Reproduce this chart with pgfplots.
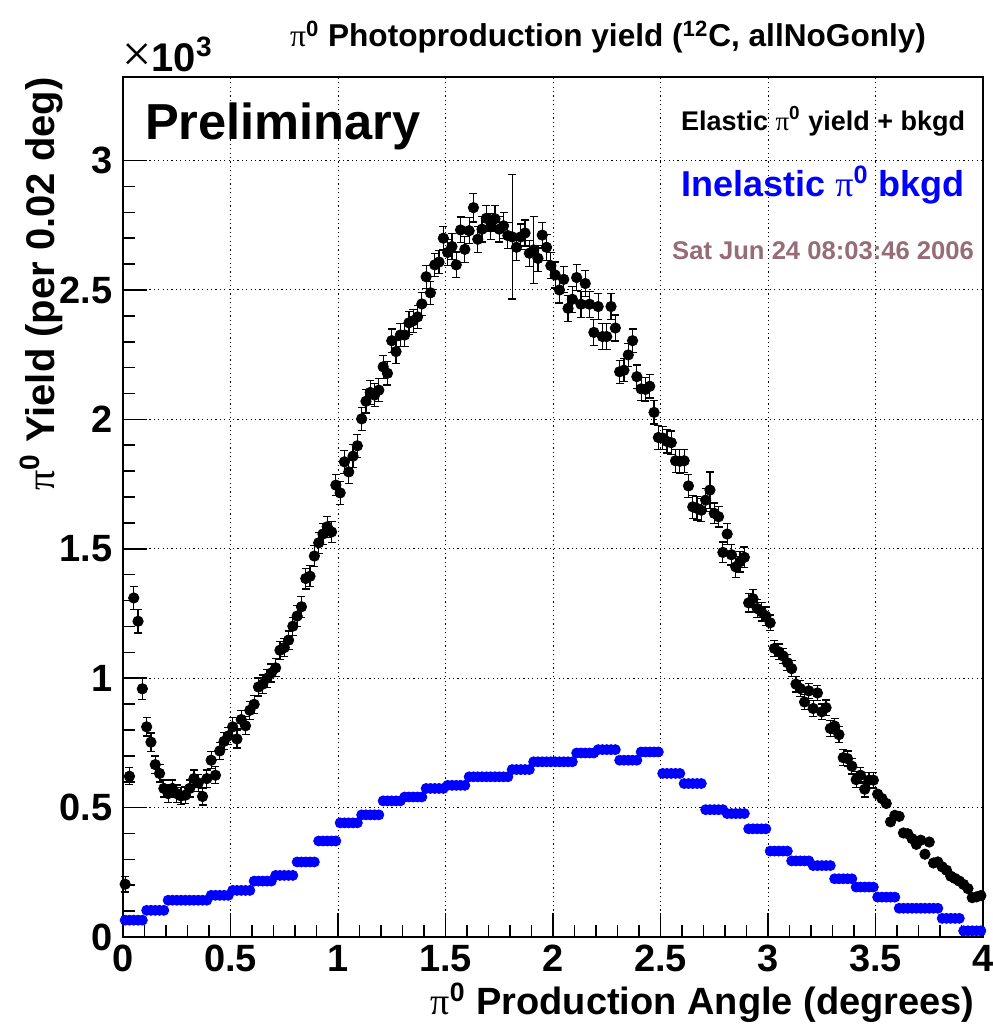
\documentclass[border=0pt]{standalone}
\usepackage{fontspec}
\setmainfont{Liberation Sans}
\newfontfamily\symb{Liberation Serif}
\usepackage{pgfplots}
\pgfplotsset{compat=1.18}
\usepackage{pgfplotstable}
\definecolor{datecol}{RGB}{150,108,118}
\newcommand{\piz}{{\symb\mdseries π}\textsuperscript{0}}
\newcommand{\fs}[1]{\fontsize{#1}{#1}\selectfont\bfseries}

% x: angle, y: yield (x10^3), ey: error, b: inelastic bkgd
\pgfplotstableread{
x y ey b
0.01 0.204 0.030 0.065
0.03 0.621 0.033 0.065
0.05 1.310 0.045 0.065
0.07 1.220 0.045 0.065
0.09 0.959 0.040 0.065
0.11 0.812 0.035 0.103
0.13 0.753 0.035 0.103
0.15 0.666 0.033 0.103
0.17 0.632 0.033 0.103
0.19 0.574 0.033 0.103
0.21 0.554 0.033 0.142
0.23 0.574 0.033 0.142
0.25 0.554 0.033 0.142
0.27 0.545 0.033 0.142
0.29 0.548 0.033 0.142
0.31 0.574 0.033 0.142
0.33 0.612 0.033 0.142
0.35 0.595 0.033 0.142
0.37 0.543 0.033 0.142
0.39 0.612 0.033 0.142
0.41 0.683 0.033 0.161
0.43 0.625 0.033 0.161
0.45 0.719 0.033 0.161
0.47 0.756 0.033 0.161
0.49 0.777 0.033 0.161
0.51 0.812 0.035 0.180
0.53 0.765 0.035 0.180
0.55 0.840 0.035 0.180
0.57 0.816 0.035 0.180
0.59 0.876 0.035 0.180
0.61 0.899 0.035 0.216
0.63 0.966 0.035 0.216
0.65 0.977 0.035 0.216
0.67 1.000 0.035 0.216
0.69 1.020 0.035 0.216
0.71 1.040 0.035 0.238
0.73 1.108 0.035 0.238
0.75 1.118 0.035 0.238
0.77 1.147 0.035 0.238
0.79 1.201 0.035 0.238
0.81 1.240 0.040 0.290
0.83 1.276 0.040 0.290
0.85 1.385 0.040 0.290
0.87 1.394 0.040 0.290
0.89 1.472 0.040 0.290
0.91 1.523 0.040 0.371
0.93 1.557 0.040 0.371
0.95 1.585 0.040 0.371
0.97 1.565 0.040 0.371
0.99 1.746 0.040 0.371
1.01 1.716 0.045 0.441
1.03 1.836 0.045 0.441
1.05 1.797 0.045 0.441
1.07 1.858 0.045 0.441
1.09 1.898 0.045 0.441
1.11 2.002 0.045 0.472
1.13 2.070 0.045 0.472
1.15 2.104 0.045 0.472
1.17 2.094 0.045 0.472
1.19 2.113 0.045 0.472
1.21 2.203 0.045 0.526
1.23 2.178 0.045 0.526
1.25 2.304 0.045 0.526
1.27 2.262 0.045 0.526
1.29 2.326 0.045 0.526
1.31 2.326 0.045 0.541
1.33 2.373 0.045 0.541
1.35 2.381 0.045 0.541
1.37 2.396 0.045 0.541
1.39 2.446 0.045 0.541
1.41 2.551 0.045 0.574
1.43 2.489 0.045 0.574
1.45 2.597 0.045 0.574
1.47 2.608 0.045 0.574
1.49 2.700 0.045 0.574
1.51 2.645 0.050 0.586
1.53 2.668 0.050 0.586
1.55 2.597 0.050 0.586
1.57 2.732 0.050 0.586
1.59 2.657 0.050 0.586
1.61 2.729 0.050 0.619
1.63 2.818 0.055 0.619
1.65 2.696 0.050 0.619
1.67 2.735 0.050 0.619
1.69 2.777 0.050 0.619
1.71 2.744 0.050 0.619
1.73 2.775 0.050 0.619
1.75 2.735 0.050 0.619
1.77 2.748 0.050 0.619
1.79 2.710 0.050 0.619
1.81 2.705 0.240 0.647
1.83 2.665 0.050 0.647
1.85 2.705 0.050 0.647
1.87 2.720 0.050 0.647
1.89 2.642 0.050 0.647
1.91 2.655 0.130 0.677
1.93 2.622 0.050 0.677
1.95 2.712 0.050 0.677
1.97 2.665 0.050 0.677
1.99 2.594 0.050 0.677
2.01 2.558 0.050 0.677
2.03 2.500 0.050 0.677
2.05 2.541 0.050 0.677
2.07 2.429 0.050 0.677
2.09 2.464 0.050 0.677
2.11 2.548 0.050 0.711
2.13 2.445 0.050 0.711
2.15 2.525 0.050 0.711
2.17 2.445 0.050 0.711
2.19 2.336 0.050 0.711
2.21 2.436 0.050 0.724
2.23 2.320 0.050 0.724
2.25 2.320 0.050 0.724
2.27 2.436 0.050 0.724
2.29 2.353 0.050 0.724
2.31 2.184 0.045 0.683
2.33 2.190 0.045 0.683
2.35 2.249 0.045 0.683
2.37 2.304 0.045 0.683
2.39 2.165 0.045 0.683
2.41 2.118 0.045 0.715
2.43 2.116 0.045 0.715
2.45 2.128 0.045 0.715
2.47 2.027 0.045 0.715
2.49 1.930 0.045 0.715
2.51 1.928 0.045 0.632
2.53 1.915 0.045 0.632
2.55 1.910 0.045 0.632
2.57 1.840 0.045 0.632
2.59 1.838 0.045 0.632
2.61 1.840 0.045 0.593
2.63 1.743 0.045 0.593
2.65 1.662 0.045 0.593
2.67 1.656 0.045 0.593
2.69 1.649 0.045 0.593
2.71 1.688 0.045 0.492
2.73 1.727 0.070 0.492
2.75 1.637 0.040 0.492
2.77 1.624 0.040 0.492
2.79 1.486 0.040 0.492
2.81 1.557 0.040 0.477
2.83 1.477 0.040 0.477
2.85 1.430 0.040 0.477
2.87 1.450 0.040 0.477
2.89 1.467 0.040 0.477
2.91 1.291 0.035 0.418
2.93 1.307 0.035 0.418
2.95 1.269 0.035 0.418
2.97 1.256 0.035 0.418
2.99 1.240 0.035 0.418
3.01 1.214 0.030 0.332
3.03 1.115 0.030 0.332
3.05 1.102 0.030 0.332
3.07 1.086 0.030 0.332
3.09 1.060 0.030 0.332
3.11 1.037 0.030 0.294
3.13 0.977 0.030 0.294
3.15 0.960 0.030 0.294
3.17 0.908 0.030 0.294
3.19 0.951 0.030 0.294
3.21 0.883 0.030 0.276
3.23 0.943 0.030 0.276
3.25 0.870 0.030 0.276
3.27 0.886 0.030 0.276
3.29 0.806 0.030 0.276
3.31 0.815 0.030 0.225
3.33 0.782 0.030 0.225
3.35 0.693 0.030 0.225
3.37 0.689 0.030 0.225
3.39 0.660 0.030 0.225
3.41 0.608 0.030 0.193
3.43 0.625 0.030 0.193
3.45 0.571 0.030 0.193
3.47 0.606 0.030 0.193
3.49 0.606 0.030 0.193
3.51 0.552 0 0.154
3.53 0.535 0 0.154
3.55 0.516 0 0.154
3.57 0.445 0 0.154
3.59 0.470 0 0.154
3.61 0.466 0 0.111
3.63 0.402 0 0.111
3.65 0.399 0 0.111
3.67 0.380 0 0.111
3.69 0.358 0 0.111
3.71 0.374 0 0.111
3.73 0.320 0 0.111
3.75 0.367 0 0.111
3.77 0.286 0 0.111
3.79 0.290 0 0.111
3.81 0.271 0 0.072
3.83 0.258 0 0.072
3.85 0.235 0 0.072
3.87 0.226 0 0.072
3.89 0.216 0 0.072
3.91 0.203 0 0.024
3.93 0.187 0 0.024
3.95 0.152 0 0.024
3.97 0.155 0 0.024
3.99 0.160 0 0.024
}\data

\begin{document}
\begin{tikzpicture}
\begin{axis}[
  scale only axis, width=430pt, height=430pt,
  xmin=0, xmax=4, ymin=0, ymax=3.323,
  xtick={0,0.5,...,4}, ytick={0,0.5,...,3},
  minor tick num=4,
  tick align=inside, xtick pos=bottom, ytick pos=left,
  major tick length=12pt, minor tick length=6pt,
  axis line style={line width=0.9pt},
  every tick/.style={black, line width=0.8pt},
  grid=major,
  grid style={black, line width=0.5pt, dash pattern=on 0.6pt off 1.6pt},
  /pgf/number format/assume math mode=true,
  ticklabel style={font=\fs{19}},
  xticklabel style={inner sep=0pt, yshift=-4pt},
  yticklabel style={inner sep=0pt, xshift=-5pt},
  clip=false,
]
\addplot[only marks, black, mark=*, mark size=2.6pt, mark options={fill=black},
  error bars/.cd, y dir=both, y explicit,
  error bar style={line width=0.6pt},
  error mark options={rotate=90, mark size=2pt, line width=0.6pt}]
  table[x=x, y=y, y error=ey] {\data};
\addplot[only marks, blue, mark=*, mark size=2.5pt, mark options={fill=blue}]
  table[x=x, y=b] {\data};

\node[anchor=base west, font=\fs{25.3}] at (axis cs:0.07,3.08) {Preliminary};
\node[anchor=base, font=\fs{13.5}] at (axis cs:3.256,3.118) {Elastic \piz{} yield + bkgd};
\node[anchor=base, blue, font=\fs{18}] at (axis cs:3.256,2.863) {Inelastic \piz{} bkgd};
\node[anchor=base, datecol, font=\fs{12.8}] at (axis cs:3.256,2.616) {Sat Jun 24 08:03:46 2006};

\coordinate (BL) at (rel axis cs:0,0);
\coordinate (BR) at (rel axis cs:1,0);
\coordinate (TL) at (rel axis cs:0,1);
\coordinate (TR) at (rel axis cs:1,1);
\coordinate (T) at (rel axis cs:0.564,1);
\end{axis}

\node[anchor=base, font=\fs{15.8}] at ([yshift=15pt]T)
  {\piz{} Photoproduction yield (\textsuperscript{12}C, allNoGonly)};
\node[anchor=base west, inner sep=0pt, font=\fs{20}] at ([shift={(-0.5pt,2.5pt)}]TL)
  {{\symb\mdseries\fontsize{26}{26}\selectfont ×}10\textsuperscript{3}};
\node[anchor=base east, inner sep=0pt, font=\fs{19}] at ([shift={(-4pt,-38.5pt)}]BR)
  {\piz{} Production Angle (degrees)};
\node[font=\fs{20}, inner sep=0pt, anchor=base east, xshift=-34pt, rotate=90] at (TL)
  {\piz{} Yield (per 0.02 deg)};

\pgfresetboundingbox
\path[use as bounding box] ([shift={(-61.5pt,-45pt)}]BL) rectangle ([shift={(5pt,38.5pt)}]TR);
\end{tikzpicture}
\end{document}
